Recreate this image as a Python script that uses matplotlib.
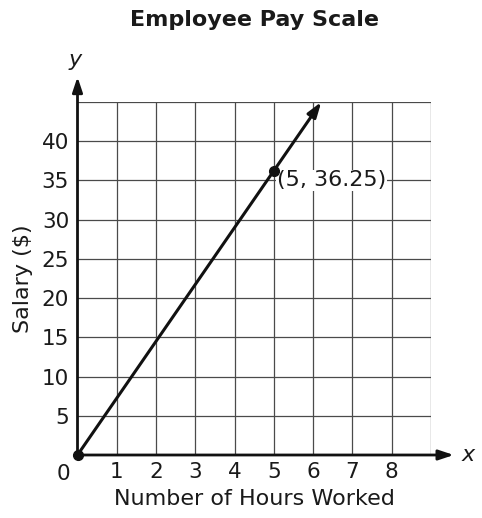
import matplotlib
matplotlib.use("Agg")
import matplotlib.pyplot as plt

hours = [0, 5]
salary = [0, 36.25]
rate = 7.25
x_ticks = [1, 2, 3, 4, 5, 6, 7, 8]
y_ticks = [5, 10, 15, 20, 25, 30, 35, 40]
point_label = "(5, 36.25)"

W, H = 482, 518
fig = plt.figure(figsize=(W / 100, H / 100), dpi=100)
x0, x1, y0, y1 = 77.5, 431, 455, 102
ax = fig.add_axes([x0 / W, (H - y0) / H, (x1 - x0) / W, (y0 - y1) / H])
ax.set_xlim(0, 9)
ax.set_ylim(0, 45)
for s in ax.spines.values():
    s.set_visible(False)

for gx in range(1, 10):
    ax.axvline(gx, color="#4a4a4a", lw=0.9, zorder=1)
for gy in range(5, 50, 5):
    ax.axhline(gy, color="#4a4a4a", lw=0.9, zorder=1)

FS = 15.5
ax.set_xticks(x_ticks)
ax.set_xticklabels([str(t) for t in x_ticks])
ax.set_yticks(y_ticks)
ax.set_yticklabels([str(t) for t in y_ticks])
ax.tick_params(length=0, labelsize=FS, colors="#1a1a1a", pad=5)
ax.tick_params(axis="y", pad=6)
ax.text(-0.37, -1.1, "0", ha="center", va="top", fontsize=FS, color="#1a1a1a", clip_on=False)

# axes arrows
ax.annotate("", xy=(9.58, 0), xytext=(0, 0), annotation_clip=False,
            arrowprops=dict(arrowstyle="-|>,head_length=0.9,head_width=0.3", color="#111111", lw=2, shrinkA=0, shrinkB=0), zorder=4)
ax.annotate("", xy=(0, 48.2), xytext=(0, 0), annotation_clip=False,
            arrowprops=dict(arrowstyle="-|>,head_length=0.9,head_width=0.3", color="#111111", lw=2, shrinkA=0, shrinkB=0), zorder=4)
ax.text(9.95, 0, "x", ha="center", va="center", fontsize=16, style="italic", color="#1a1a1a", clip_on=False)
ax.text(-0.05, 50.3, "y", ha="center", va="center", fontsize=16, style="italic", color="#1a1a1a", clip_on=False)

# salary line
x_end = 45 / rate
ax.annotate("", xy=(x_end, 45), xytext=(0, 0), annotation_clip=False,
            arrowprops=dict(arrowstyle="-|>,head_length=0.9,head_width=0.3", color="#111111", lw=2.2, shrinkA=0, shrinkB=0), zorder=5)
ax.plot(hours, salary, "o", color="#111111", ms=7, zorder=6, clip_on=False)
ax.text(5.08, 35.0, point_label, ha="left", va="center", fontsize=16, color="#1a1a1a",
        bbox=dict(facecolor="white", edgecolor="none", pad=0.5), zorder=5)

ax.set_xlabel("Number of Hours Worked", fontsize=16, color="#1a1a1a", labelpad=5)
ax.set_ylabel("Salary ($)", fontsize=16, color="#1a1a1a", labelpad=6)
fig.text(255 / W, 1 - 20 / H, "Employee Pay Scale", ha="center", va="center", fontsize=16, fontweight="bold", color="#1a1a1a")

fig.savefig("out.png", dpi=100)
